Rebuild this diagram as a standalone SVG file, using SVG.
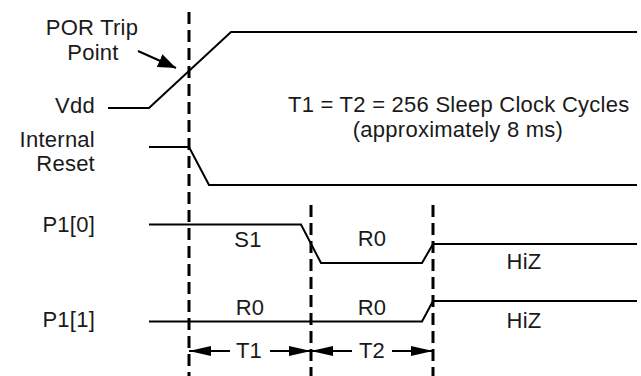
<svg xmlns="http://www.w3.org/2000/svg" width="641" height="376" viewBox="0 0 641 376">
<style>
text{font-family:"Liberation Sans",Arial,sans-serif;font-size:22px;letter-spacing:0.25px;fill:#1a1a1a}
.sig{fill:none;stroke:#000;stroke-width:2}
.dash{fill:none;stroke:#000;stroke-width:3;stroke-dasharray:12 6}
.dim{fill:none;stroke:#000;stroke-width:2}
.m{text-anchor:middle}
.r{text-anchor:end}
</style>
<defs>
<marker id="dh" viewBox="0 0 22 10" refX="22" refY="5" markerWidth="22" markerHeight="10" markerUnits="userSpaceOnUse" orient="auto-start-reverse"><path d="M0,0 L22,5 L0,10 z" fill="#000"/></marker>
<marker id="ph" viewBox="0 0 18 14" refX="18" refY="7" markerWidth="18" markerHeight="14" markerUnits="userSpaceOnUse" orient="auto"><path d="M0,0 L18,7 L0,14 z" fill="#000"/></marker>
</defs>
<g id="connectors">
<line class="dash" x1="189" y1="12" x2="189" y2="376"/>
<line class="dash" x1="311" y1="205" x2="311" y2="376"/>
<line class="dash" x1="433" y1="205" x2="433" y2="376"/>
<line class="dim" x1="138" y1="51" x2="176" y2="68" marker-end="url(#ph)"/>
<line class="dim" x1="189" y1="351" x2="230" y2="351" marker-start="url(#dh)"/>
<line class="dim" x1="270" y1="351" x2="311" y2="351" marker-end="url(#dh)"/>
<line class="dim" x1="311" y1="351" x2="352" y2="351" marker-start="url(#dh)"/>
<line class="dim" x1="392" y1="351" x2="433" y2="351" marker-end="url(#dh)"/>
</g>
<g id="por-label"><text class="m" x="92" y="35">POR Trip</text><text class="m" x="93" y="60">Point</text></g>
<g id="vdd"><text class="r" x="95" y="113">Vdd</text><polyline class="sig" points="108,108 149,108 231,32 637,32"/></g>
<g id="internal-reset"><text class="r" x="95" y="147">Internal</text><text class="r" x="95" y="171">Reset</text><polyline class="sig" points="149,147 189,147 209,185 637,185"/></g>
<g id="p10"><text class="r" x="95" y="232">P1[0]</text><polyline class="sig" points="149,224.5 301,224.5 321,263 422,263 433,244 637,244"/>
<text class="m" x="248" y="247">S1</text><text class="m" x="372" y="246">R0</text><text class="m" x="524" y="269">HiZ</text></g>
<g id="p11"><text class="r" x="95" y="327">P1[1]</text><polyline class="sig" points="149,321.5 422,321.5 433,301 637,301"/>
<text class="m" x="250" y="315">R0</text><text class="m" x="372" y="315">R0</text><text class="m" x="524" y="328">HiZ</text></g>
<g id="note"><text x="288" y="112">T1 = T2 = 256 Sleep Clock Cycles</text><text class="m" x="458" y="137">(approximately 8 ms)</text></g>
<g id="dims"><text class="m" x="249" y="358">T1</text><text class="m" x="372" y="358">T2</text></g>
</svg>
